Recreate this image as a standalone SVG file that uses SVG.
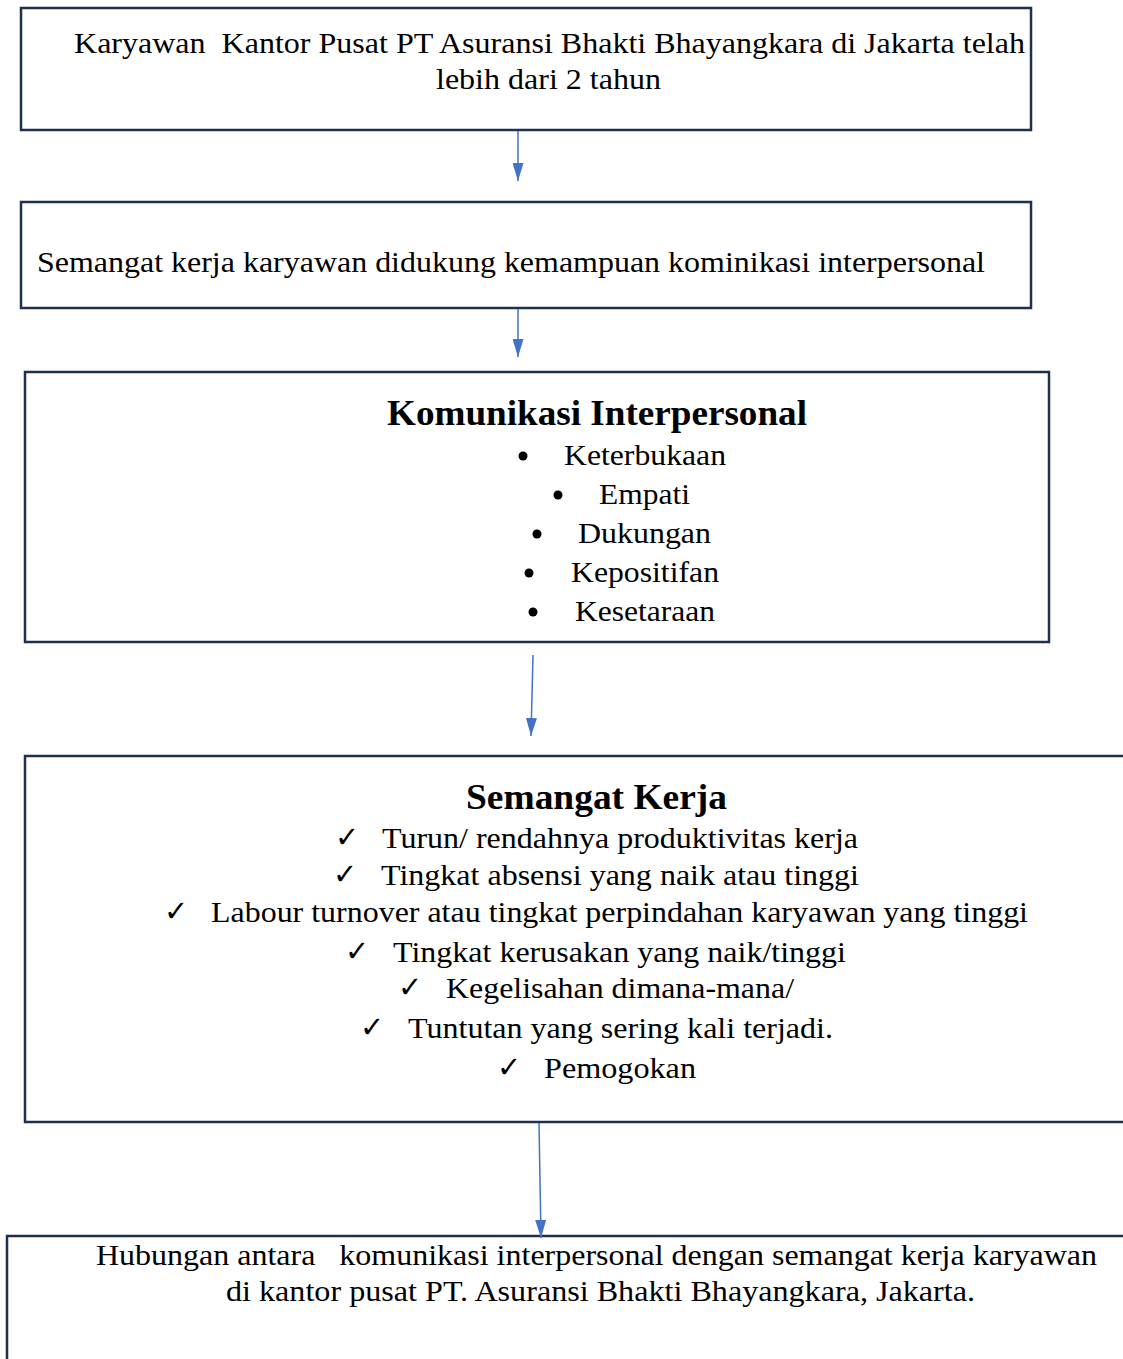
<svg xmlns="http://www.w3.org/2000/svg" width="1123" height="1359" viewBox="0 0 1123 1359" xml:space="preserve">
<defs>
<style>
.box{fill:#fff;stroke:#1f2f4f;stroke-width:2.5}
.t{font-family:"Liberation Serif","Times New Roman",serif;font-size:30px;fill:#000;white-space:pre}
.h{font-family:"Liberation Serif","Times New Roman",serif;font-size:36px;font-weight:bold;fill:#000}
.c{font-family:"DejaVu Sans",sans-serif;font-size:29px;fill:#000}
.conn{stroke:#4472c4;stroke-width:1.5;fill:none;marker-end:url(#ah)}
</style>
<marker id="ah" markerWidth="18" markerHeight="11" refX="18" refY="5.5" orient="auto" markerUnits="userSpaceOnUse" viewBox="0 0 18 11">
<path d="M0,0 L18,5.5 L0,11 Z" fill="#4472c4"/>
</marker>
</defs>
<g id="n1">
<rect class="box" x="21" y="8" width="1010" height="122"/>
<text class="t" x="74" y="53" textLength="951" lengthAdjust="spacingAndGlyphs">Karyawan  Kantor Pusat PT Asuransi Bhakti Bhayangkara di Jakarta telah</text>
<text class="t" x="436" y="89" textLength="225" lengthAdjust="spacingAndGlyphs">lebih dari 2 tahun</text>
</g>
<g id="n2">
<rect class="box" x="21" y="202" width="1010" height="106"/>
<text class="t" x="37" y="272" textLength="948" lengthAdjust="spacingAndGlyphs">Semangat kerja karyawan didukung kemampuan kominikasi interpersonal</text>
</g>
<g id="n3">
<rect class="box" x="25" y="372" width="1024" height="270"/>
<text class="h" x="387" y="425" textLength="420" lengthAdjust="spacingAndGlyphs">Komunikasi Interpersonal</text>
<circle cx="523" cy="456" r="4.5"/><text class="t" x="564" y="465" textLength="162" lengthAdjust="spacingAndGlyphs">Keterbukaan</text>
<circle cx="558" cy="495" r="4.5"/><text class="t" x="599" y="504" textLength="91" lengthAdjust="spacingAndGlyphs">Empati</text>
<circle cx="537" cy="534" r="4.5"/><text class="t" x="578" y="543" textLength="133" lengthAdjust="spacingAndGlyphs">Dukungan</text>
<circle cx="529" cy="573" r="4.5"/><text class="t" x="571" y="582" textLength="148" lengthAdjust="spacingAndGlyphs">Kepositifan</text>
<circle cx="533" cy="612" r="4.5"/><text class="t" x="575" y="621" textLength="140" lengthAdjust="spacingAndGlyphs">Kesetaraan</text>
</g>
<g id="n4">
<rect class="box" x="25" y="756" width="1110" height="366"/>
<text class="h" x="466" y="809" textLength="261" lengthAdjust="spacingAndGlyphs">Semangat Kerja</text>
<text class="c" x="335" y="847">✓</text><text class="t" x="382" y="848" textLength="476" lengthAdjust="spacingAndGlyphs">Turun/ rendahnya produktivitas kerja</text>
<text class="c" x="333" y="884">✓</text><text class="t" x="381" y="885" textLength="478" lengthAdjust="spacingAndGlyphs">Tingkat absensi yang naik atau tinggi</text>
<text class="c" x="164" y="921">✓</text><text class="t" x="211" y="922" textLength="817" lengthAdjust="spacingAndGlyphs">Labour turnover atau tingkat perpindahan karyawan yang tinggi</text>
<text class="c" x="345" y="961">✓</text><text class="t" x="393" y="962" textLength="453" lengthAdjust="spacingAndGlyphs">Tingkat kerusakan yang naik/tinggi</text>
<text class="c" x="398" y="997">✓</text><text class="t" x="446" y="998" textLength="348" lengthAdjust="spacingAndGlyphs">Kegelisahan dimana-mana/</text>
<text class="c" x="360" y="1037">✓</text><text class="t" x="408" y="1038" textLength="425" lengthAdjust="spacingAndGlyphs">Tuntutan yang sering kali terjadi.</text>
<text class="c" x="497" y="1077">✓</text><text class="t" x="544" y="1078" textLength="152" lengthAdjust="spacingAndGlyphs">Pemogokan</text>
</g>
<g id="n5">
<rect class="box" x="7" y="1236" width="1130" height="140"/>
<text class="t" x="96" y="1265" textLength="1001" lengthAdjust="spacingAndGlyphs">Hubungan antara   komunikasi interpersonal dengan semangat kerja karyawan</text>
<text class="t" x="226" y="1301" textLength="749" lengthAdjust="spacingAndGlyphs">di kantor pusat PT. Asuransi Bhakti Bhayangkara, Jakarta.</text>
</g>
<g id="connectors">
<line class="conn" x1="518" y1="131" x2="518" y2="181"/>
<line class="conn" x1="518" y1="309" x2="518" y2="357"/>
<line class="conn" x1="533" y1="655" x2="531" y2="736"/>
<line class="conn" x1="539" y1="1123" x2="541" y2="1238"/>
</g>
</svg>
